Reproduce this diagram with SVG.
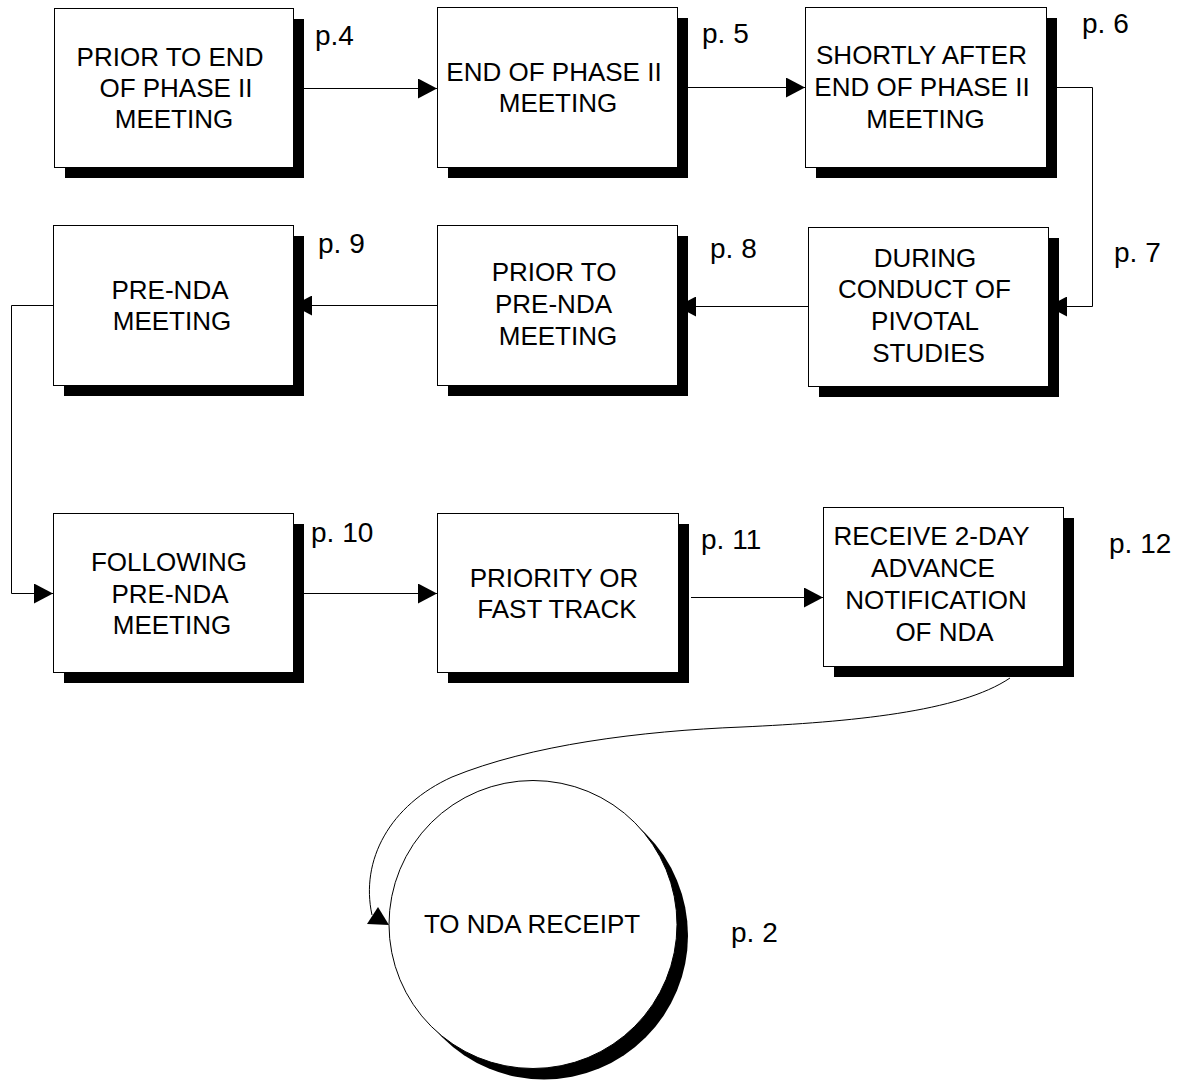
<svg xmlns="http://www.w3.org/2000/svg" width="1183" height="1080" viewBox="0 0 1183 1080">
<style>
.box{fill:#fff;stroke:#000;stroke-width:1}
.sh{fill:#000}
.t{font-family:"Liberation Sans",Arial,sans-serif;font-size:26px;fill:#000;text-anchor:middle}
.p{font-family:"Liberation Sans",Arial,sans-serif;font-size:28px;fill:#000}
.c{fill:none;stroke:#000;stroke-width:1}
</style>
<defs>
<marker id="ah" markerUnits="userSpaceOnUse" markerWidth="20" markerHeight="20" viewBox="0 0 20 20" refX="19" refY="10" orient="auto">
<path d="M0,0 L19,10 L0,20 z" fill="#000"/>
</marker>
</defs>
<rect width="1183" height="1080" fill="#fff"/>

<g id="n1">
<rect class="sh" x="65" y="19" width="239" height="159"/>
<rect class="box" x="54.5" y="8.5" width="239" height="159"/>
<text class="t" x="170" y="66">PRIOR TO END</text>
<text class="t" x="176" y="97">OF PHASE II</text>
<text class="t" x="174" y="128">MEETING</text>
<text class="p" x="315" y="45">p.4</text>
</g>

<g id="n2">
<rect class="sh" x="448" y="18" width="240" height="160"/>
<rect class="box" x="437.5" y="7.5" width="240" height="160"/>
<text class="t" x="554" y="81">END OF PHASE II</text>
<text class="t" x="558" y="112">MEETING</text>
<text class="p" x="702" y="43">p. 5</text>
</g>

<g id="n3">
<rect class="sh" x="816" y="18" width="241" height="160"/>
<rect class="box" x="805.5" y="7.5" width="241" height="160"/>
<text class="t" x="921.5" y="64">SHORTLY AFTER</text>
<text class="t" x="922" y="96">END OF PHASE II</text>
<text class="t" x="925.5" y="127.5">MEETING</text>
<text class="p" x="1082" y="33">p. 6</text>
</g>

<g id="n4">
<rect class="sh" x="64" y="236" width="240" height="160"/>
<rect class="box" x="53.5" y="225.5" width="240" height="160"/>
<text class="t" x="170" y="299">PRE-NDA</text>
<text class="t" x="172" y="330">MEETING</text>
<text class="p" x="318" y="253">p. 9</text>
</g>

<g id="n5">
<rect class="sh" x="448" y="236" width="240" height="160"/>
<rect class="box" x="437.5" y="225.5" width="240" height="160"/>
<text class="t" x="554" y="281">PRIOR TO</text>
<text class="t" x="553.5" y="313">PRE-NDA</text>
<text class="t" x="558" y="345">MEETING</text>
<text class="p" x="710" y="258">p. 8</text>
</g>

<g id="n6">
<rect class="sh" x="819" y="238" width="240" height="159"/>
<rect class="box" x="808.5" y="227.5" width="240" height="159"/>
<text class="t" x="925" y="266.5">DURING</text>
<text class="t" x="924.5" y="298">CONDUCT OF</text>
<text class="t" x="925" y="330">PIVOTAL</text>
<text class="t" x="928.5" y="362">STUDIES</text>
<text class="p" x="1114" y="262">p. 7</text>
</g>

<g id="n7">
<rect class="sh" x="64" y="524" width="240" height="159"/>
<rect class="box" x="53.5" y="513.5" width="240" height="159"/>
<text class="t" x="169" y="570.5">FOLLOWING</text>
<text class="t" x="170" y="602.5">PRE-NDA</text>
<text class="t" x="172" y="634">MEETING</text>
<text class="p" x="311" y="542">p. 10</text>
</g>

<g id="n8">
<rect class="sh" x="448" y="524" width="241" height="159"/>
<rect class="box" x="437.5" y="513.5" width="241" height="159"/>
<text class="t" x="554" y="586.5">PRIORITY OR</text>
<text class="t" x="557" y="618">FAST TRACK</text>
<text class="p" x="701" y="549">p. 11</text>
</g>

<g id="n9">
<rect class="sh" x="834" y="518" width="240" height="159"/>
<rect class="box" x="823.5" y="507.5" width="240" height="159"/>
<text class="t" x="931.5" y="545">RECEIVE 2-DAY</text>
<text class="t" x="933" y="577">ADVANCE</text>
<text class="t" x="936" y="609">NOTIFICATION</text>
<text class="t" x="944.5" y="641">OF NDA</text>
<text class="p" x="1109" y="553">p. 12</text>
</g>

<g id="n10">
<circle class="sh" cx="544" cy="935.5" r="144"/>
<circle class="box" cx="533" cy="924.5" r="144"/>
<text class="t" x="532" y="933">TO NDA RECEIPT</text>
<text class="p" x="731" y="942">p. 2</text>
</g>

<g id="connectors">
<path class="c" d="M304,88.5 H437" marker-end="url(#ah)"/>
<path class="c" d="M688,87.5 H805" marker-end="url(#ah)"/>
<path class="c" d="M1057,87.5 H1092.5 V306.5 H1048" marker-end="url(#ah)"/>
<path class="c" d="M808,306.5 H677" marker-end="url(#ah)"/>
<path class="c" d="M437,305.5 H293" marker-end="url(#ah)"/>
<path class="c" d="M53,305.5 H11.5 V593.5 H53" marker-end="url(#ah)"/>
<path class="c" d="M304,593.5 H437" marker-end="url(#ah)"/>
<path class="c" d="M691,597.5 H823" marker-end="url(#ah)"/>
<path class="c" d="M1010,678 C960,712 850,722 742,727 C640,731 530,745 452,777 C390,805 360,860 372,915"/>
<polygon points="389,925 367,924 378,907" fill="#000"/>
</g>
</svg>
